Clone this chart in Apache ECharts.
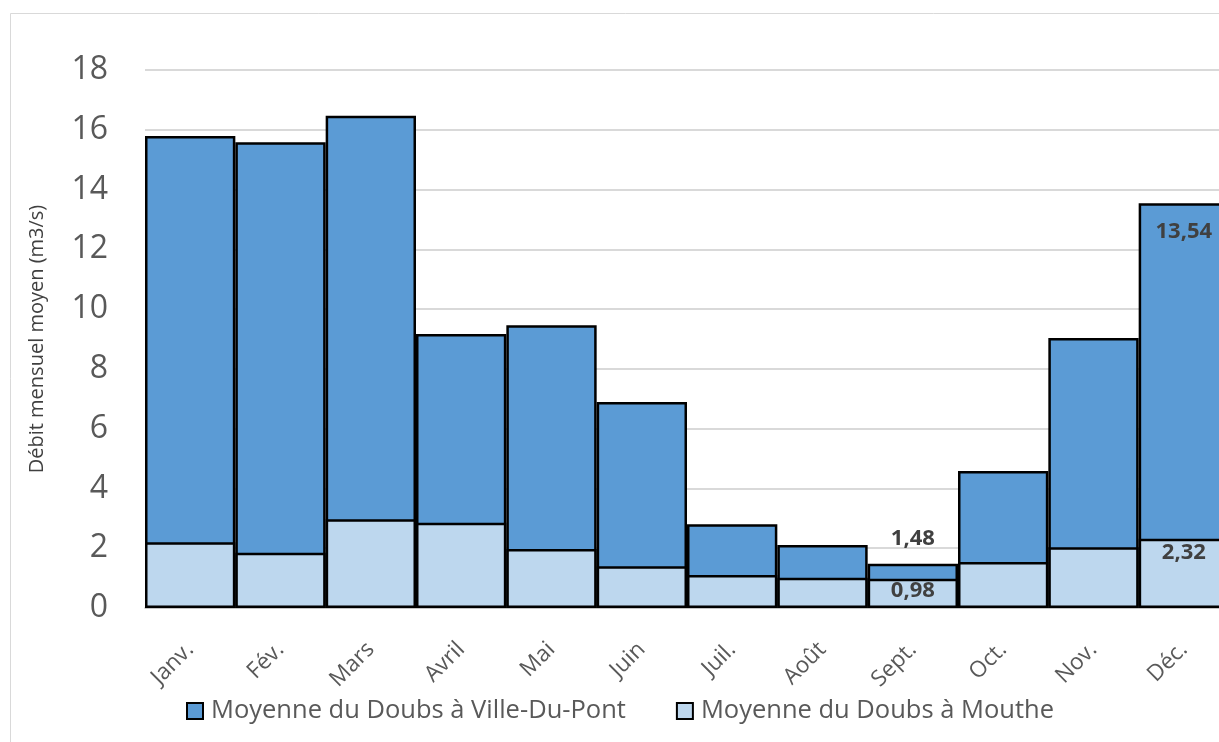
<!DOCTYPE html>
<html><head><meta charset="utf-8">
<script src="https://cdn.jsdelivr.net/npm/echarts@6/dist/echarts.min.js"></script>
<style>html,body{margin:0;padding:0;background:#fff;overflow:hidden}#c{width:1240px;height:742px}</style>
</head><body><div id="c"></div>
<script>
const months = ['Janv.','Fév.','Mars','Avril','Mai','Juin','Juil.','Août','Sept.','Oct.','Nov.','Déc.'];
const villeDuPont = [15.79, 15.58, 16.47, 9.17, 9.46, 6.89, 2.80, 2.11, 1.48, 4.58, 9.03, 13.54];
const mouthe = [2.20, 1.85, 2.97, 2.85, 1.97, 1.40, 1.10, 1.01, 0.98, 1.54, 2.03, 2.32];
const yTicks = [0, 2, 4, 6, 8, 10, 12, 14, 16, 18];
const seriesNames = ['Moyenne du Doubs à Ville-Du-Pont', 'Moyenne du Doubs à Mouthe'];
const labelledVille = [8, 11];
const labelledMouthe = [8, 11];

const fmt = v => v.toFixed(2).replace('.', ',');
const labelBase = {show: true, color: '#404040', fontFamily: 'Open Sans', fontWeight: 'bold', fontSize: 22, formatter: p => fmt(p.value)};
const villeLabelStyle = {8: {position: 'top', distance: 14}, 11: {position: 'insideTop', distance: 17}};
const moutheLabelStyle = {8: {position: 'insideTop', distance: 1}, 11: {position: 'insideTop', distance: 3}};

const villeData = villeDuPont.map((v, i) => labelledVille.includes(i) ? {value: v, label: Object.assign({}, labelBase, villeLabelStyle[i])} : v);
const moutheData = mouthe.map((v, i) => labelledMouthe.includes(i) ? {value: v, label: Object.assign({}, labelBase, moutheLabelStyle[i])} : v);

const chart = echarts.init(document.getElementById('c'), null, {renderer: 'canvas'});
chart.setOption({
  animation: false,
  backgroundColor: '#fff',
  graphic: [{type: 'rect', shape: {x: 10.5, y: 13.5, width: 1400, height: 900}, style: {fill: 'none', stroke: '#D9D9D9', lineWidth: 1}, z: -10}],
  grid: {left: 145, right: 11, top: 70, bottom: 134},
  legend: {
    data: seriesNames, left: 181, top: 693, itemWidth: 16, itemHeight: 16, itemGap: 50, icon: 'rect',
    textStyle: {color: '#595959', fontFamily: 'Open Sans', fontSize: 25.5, padding: [0, 0, 0, 3]}
  },
  xAxis: {
    type: 'category', data: months,
    axisLine: {lineStyle: {color: '#BFBFBF', width: 1.5}},
    axisTick: {show: false},
    axisLabel: {rotate: 45, color: '#595959', fontFamily: 'Open Sans', fontSize: 22.5, margin: 38, interval: 0}
  },
  yAxis: {
    type: 'value', min: 0, max: 18, interval: 2,
    name: 'Débit mensuel moyen (m3/s)', nameLocation: 'middle', nameGap: 98, nameRotate: 90,
    nameTextStyle: {color: '#404040', fontFamily: 'Open Sans', fontSize: 20},
    axisLine: {show: false}, axisTick: {show: false},
    splitLine: {lineStyle: {color: '#D9D9D9', width: 2}},
    axisLabel: {color: '#595959', fontFamily: 'Open Sans', fontSize: 32, margin: 37,
      formatter: v => yTicks.includes(v) ? String(v) : ''}
  },
  series: [
    {name: seriesNames[0], type: 'bar', data: villeData, barCategoryGap: 0, barGap: '-100%',
      itemStyle: {color: '#5B9BD5', borderColor: '#000', borderWidth: 2.5}},
    {name: seriesNames[1], type: 'bar', data: moutheData, barCategoryGap: 0,
      itemStyle: {color: '#BDD7EE', borderColor: '#000', borderWidth: 2.5}}
  ]
});
</script></body></html>
